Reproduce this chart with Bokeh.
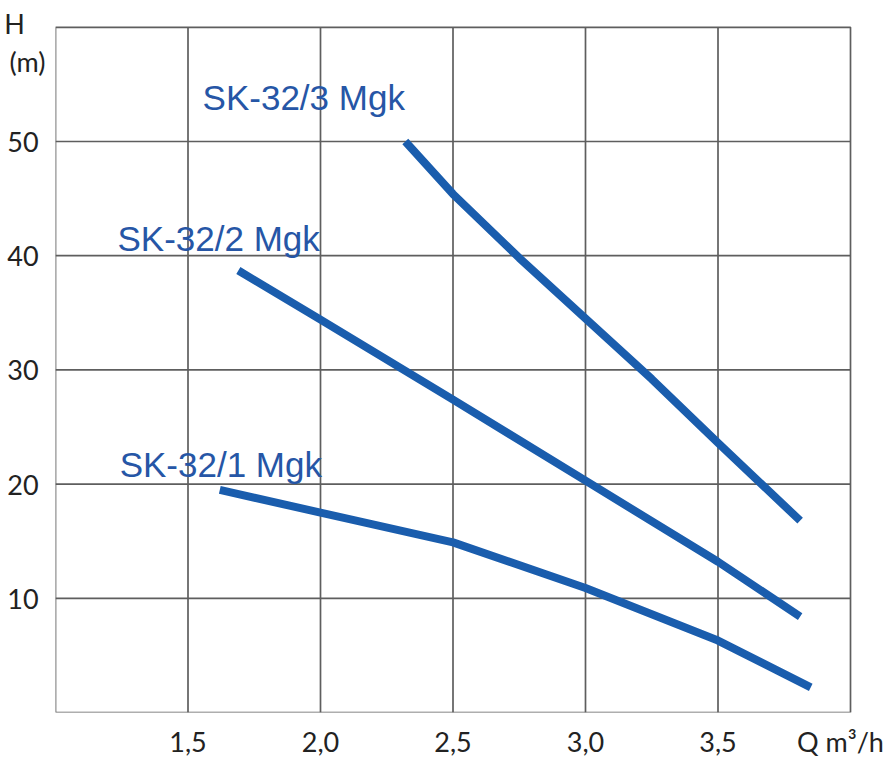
from bokeh.plotting import figure
from bokeh.models import FixedTicker
from bokeh.core.properties import value
from bokeh.embed import file_html
from bokeh.resources import INLINE

# data
sk3_q = [2.32, 2.5, 2.75, 3.0, 3.25, 3.5, 3.81]
sk3_h = [50.0, 45.4, 39.8, 34.5, 29.2, 23.6, 16.8]
sk2_q = [1.69, 2.0, 2.5, 3.0, 3.5, 3.81]
sk2_h = [38.7, 34.4, 27.4, 20.3, 13.2, 8.4]
sk1_q = [1.62, 2.0, 2.5, 3.0, 3.5, 3.85]
sk1_h = [19.5, 17.5, 14.9, 10.9, 6.3, 2.2]

label_names = ["SK-32/3 Mgk", "SK-32/2 Mgk", "SK-32/1 Mgk"]
label_q = [1.555, 1.234, 1.242]
label_h = [53.85, 41.5, 21.75]

x_ticks = [1.5, 2.0, 2.5, 3.0, 3.5]
x_tick_labels = ["1,5", "2,0", "2,5", "3,0", "3,5"]
x_title = "Q m³/h"
x_title_pos = 3.962
y_ticks = [10, 20, 30, 40, 50]
y_tick_labels = ["10", "20", "30", "40", "50"]
y_title_lines = ["H", "(m)"]
y_title_pos = [60.35, 57.0]

x_box = [1.0, 4.0]
y_box = [0, 60]

LINE = "#1A5DAD"
TXT = "#2656A6"
GRID = "#5E5E5E"
TICKFONT = "Lato"
NB = "\u00a0"

p = figure(width=889, height=760, x_range=(1, 1 + 834 / 265), y_range=(0, 717 / 11.5),
           output_backend="svg", toolbar_location=None,
           min_border_left=55, min_border_right=0, min_border_top=0, min_border_bottom=43)

p.outline_line_color = None
p.background_fill_color = "white"
p.grid.visible = False

# axes (labels only)
xt = x_ticks + [x_title_pos]
p.xaxis.ticker = FixedTicker(ticks=xt)
p.xaxis.major_label_overrides = dict(zip(xt, x_tick_labels + [x_title]))
yt = y_ticks + y_title_pos
p.yaxis.ticker = FixedTicker(ticks=yt)
p.yaxis.major_label_overrides = dict(zip(
    yt, [t + NB for t in y_tick_labels] + [y_title_lines[0] + NB * 3, y_title_lines[1]]))
for ax in (p.xaxis, p.yaxis):
    ax.axis_line_color = None
    ax.major_tick_line_color = None
    ax.minor_tick_line_color = None
    ax.major_tick_out = 0
    ax.major_tick_in = 0
    ax.major_label_text_font = TICKFONT
    ax.major_label_text_font_size = "27px"
    ax.major_label_text_color = "#222222"
p.yaxis.major_label_standoff = 10
p.xaxis.major_label_standoff = 12

# chart box and grid lines limited to the box
p.segment(x0=x_ticks, y0=y_box[0], x1=x_ticks, y1=y_box[1], line_color=GRID, line_width=1.7)
p.segment(x0=x_box[0], y0=y_ticks, x1=x_box[1], y1=y_ticks, line_color=GRID, line_width=1.7)
p.quad(left=[x_box[0]], right=[x_box[1]], bottom=[y_box[0]], top=[y_box[1]],
       fill_color=None, line_color=GRID, line_width=1.7)

for q, h in ((sk3_q, sk3_h), (sk2_q, sk2_h), (sk1_q, sk1_h)):
    p.line(q, h, line_color=LINE, line_width=8, line_cap="butt", line_join="round")

p.text(x=label_q, y=label_h, text=label_names, text_font=value("Liberation Sans"),
       text_font_size="35px", text_color=TXT, text_baseline="alphabetic", text_align="left")

open("out.html", "w").write(file_html(p, INLINE))
